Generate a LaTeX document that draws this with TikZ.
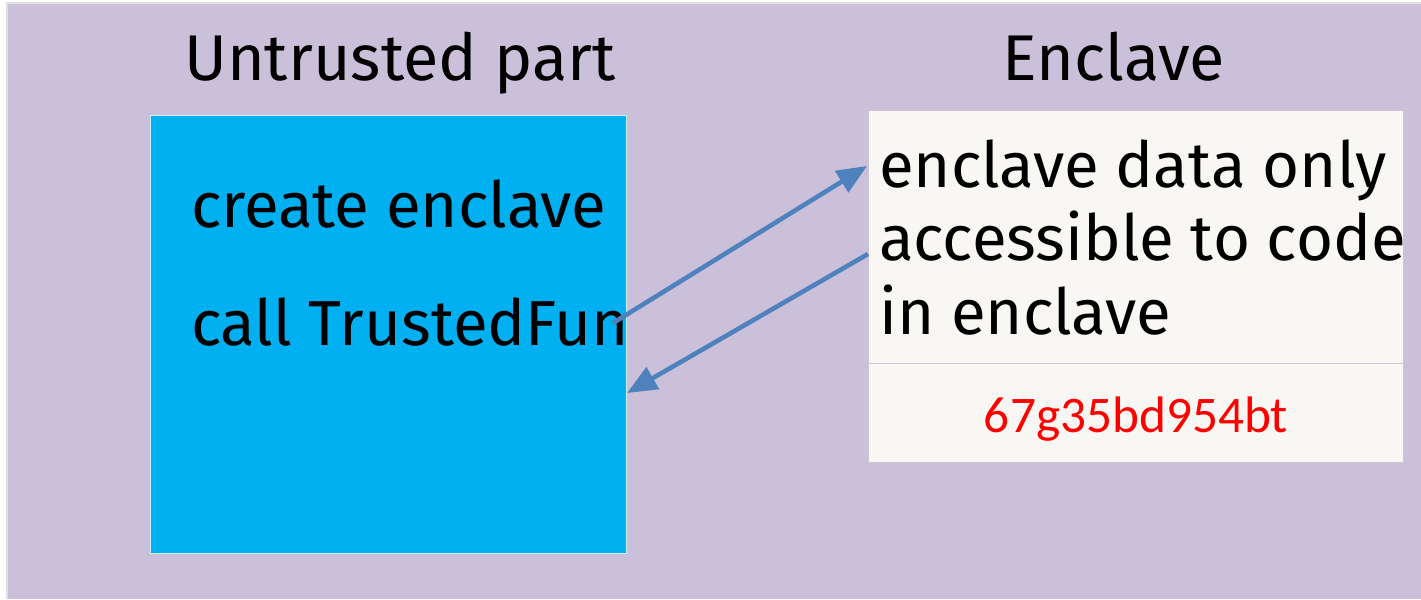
\documentclass[tikz,border=0pt]{standalone}
\usepackage{fontspec}
\setmainfont{Fira Sans}
\newfontfamily\keyfont{Carlito}
\usetikzlibrary{arrows.meta,positioning}

\definecolor{slidebg}{RGB}{203,192,218}
\definecolor{hostblue}{RGB}{0,176,240}
\definecolor{enclavebg}{RGB}{248,247,243}
\definecolor{boxline}{RGB}{205,196,214}
\definecolor{flowblue}{RGB}{79,129,189}

\begin{document}
\begin{tikzpicture}[x=0.1mm, y=-0.1mm, semithick]

    \tikzstyle{part} = [font=\fontsize{18.4}{22}\selectfont]
    \tikzstyle{label} = [font=\fontsize{18.1}{20.8}\selectfont, inner sep=0pt, align=left]
    \tikzstyle{hostbox} = [rectangle, fill=hostblue, draw=white!80!hostblue, thin, inner sep=0pt, minimum width=47.6mm, minimum height=43.8mm]
    \tikzstyle{encbox} = [rectangle, fill=enclavebg, draw=boxline, thin, inner sep=0pt, minimum width=53.5mm]
    \tikzstyle{flow} = [draw=flowblue, line width=1.3pt, -{Triangle[length=8.5pt, width=7pt]}]

    \useasboundingbox (0,0) rectangle (1421,599);
    \fill[white] (0,0) rectangle (1421,599);
    \fill[slidebg] (7,3) rectangle (1421,599);
    \draw[black!12, thin] (7,599) -- (7,3) -- (1421,3);

    % the two sides
    \node (host)    [hostbox, anchor=north west]                  at (150,115) {};
    \node (enclave) [encbox, minimum height=25.3mm, anchor=north west] at (868,110) {};
    \node (sealed)  [encbox, minimum height=9.9mm, below=-0.4pt of enclave] {};

    \node (hosttitle) [part, anchor=base] at (400,80)  {Untrusted part};
    \node (enctitle)  [part, anchor=base] at (1114,80) {Enclave};

    \node (create) [label, anchor=base west] at (190,227) {create enclave};
    \node (call)   [label, anchor=base west] at (190,345) {call TrustedFun};

    % base of a multi-line node is its last line
    \node (rule) [label, anchor=base west] at (878,334)
        {enclave data only\\accessible to code\\in enclave};

    \node (secret) [anchor=base, text=red, inner sep=0pt,
        font=\keyfont\fontsize{14.6}{17}\selectfont] at (1136,432) {67g35bd954bt};

    % call into the enclave and return
    \coordinate (callout) at (613,323);
    \coordinate (entry)   at (867,166);
    \coordinate (exit)    at (868,254);
    \coordinate (back)    at (627,393);

    \draw[flow] (callout) -- (entry);
    \draw[flow] (exit) -- (back);
\end{tikzpicture}
\end{document}
